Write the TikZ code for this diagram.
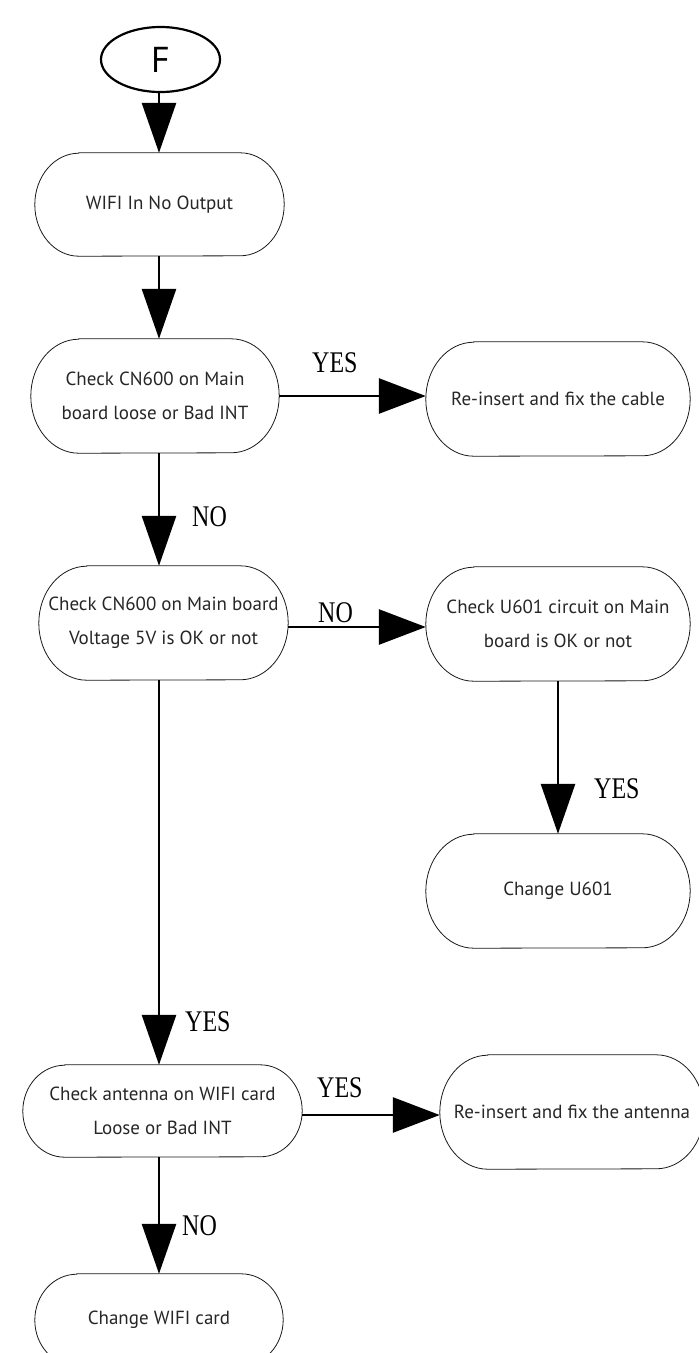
\documentclass[tikz,border=0pt]{standalone}
\usepackage{fontspec}
\setmainfont{PT Sans}
\newfontfamily\boxfont{PT Sans}
\newfontfamily\lblfont[FakeStretch=0.8]{Liberation Serif}
\usetikzlibrary{arrows.meta,shapes.geometric}
\begin{document}
\begin{tikzpicture}[x=1pt,y=1pt,
  box/.style n args={2}{align=center, font=\boxfont\fontsize{19}{34}\selectfont, text=black!85,
     inner sep=0pt, minimum width=#1pt, minimum height=#2pt},
  outline/.style={line width=0.8pt, draw=black!90},
  varr/.style={line width=2.8pt, -{Triangle[length=50pt, width=34pt]}},
  harr/.style={line width=2.8pt, -{Triangle[length=47pt, width=35pt]}},
  lbl/.style={font=\lblfont\fontsize{30}{30}\selectfont, inner sep=0pt, anchor=west}]
\path[use as bounding box, clip] (0,0) rectangle (699,-1353);

% start ellipse
\node[ellipse, draw, line width=2.2pt, minimum width=119pt, minimum height=65pt, inner sep=0pt,
      font=\boxfont\fontsize{36}{36}\selectfont] (F) at (160.5,-59.5) {\raisebox{-5pt}{F}};

% boxes
\node[box={249}{103}] (b1) at (159.5,-204.5) {WIFI In No Output};
\node[box={248}{114}] (b2) at (155,-396) {Check CN600 on Main\\board loose or Bad INT};
\node[box={264}{114}] (r1) at (558,-399) {Re-insert and fix the cable};
\node[box={249}{114}] (b3) at (163.5,-623) {Check CN600 on Main board\\Voltage 5V is OK or not};
\node[box={264}{114}] (r2) at (558,-624) {Check U601 circuit on Main\\board is OK or not};
\node[box={264}{114}] (r3) at (558,-891) {Change U601};
\node[box={279}{92}] (b4) at (162.5,-1111) {Check antenna on WIFI card\\Loose or Bad INT};
\node[box={264}{114}] (r4) at (572,-1112) {Re-insert and fix the antenna};
\node[box={248}{92}] (b5) at (159,-1320) {Change WIFI card};

\foreach \n/\r/\h in {b1/44/51.5, b2/48/57, r1/48/57, b3/48/57, r2/48/57, r3/48/57, b4/42/46, r4/48/57, b5/42/46}
  \draw[outline] ([xshift=\r pt]\n.north west) -- ([xshift=-\r pt]\n.north east)
     arc[start angle=90, end angle=-90, x radius=\r pt, y radius=\h pt]
     -- ([xshift=\r pt]\n.south west)
     arc[start angle=270, end angle=90, x radius=\r pt, y radius=\h pt] -- cycle;

% connectors
\coordinate (colL) at (159,0);
\draw[varr] (F.south -| colL) -- (b1.north -| colL);
\draw[varr] (b1.south -| colL) -- (b2.north -| colL);
\draw[varr] (b2.south -| colL) -- (b3.north -| colL);
\draw[varr] (b3.south -| colL) -- (b4.north -| colL);
\draw[varr] (b4.south -| colL) -- (b5.north -| colL);
\draw[harr] (b2.east) -- (b2.east -| r1.west);
\draw[harr] ([yshift=-4pt]b3.east) -- ([yshift=-4pt]b3.east -| r2.west);
\draw[harr] ([yshift=-4pt]b4.east) -- ([yshift=-4pt]b4.east -| r4.west);
\draw[varr] (r2.south) -- (r3.north);

% labels
\node[lbl] (yes1) at (312,-363) {YES};
\node[lbl] (no1) at (192,-516.5) {NO};
\node[lbl] (no2) at (318,-612.5) {NO};
\node[lbl] (yes2) at (594,-788.5) {YES};
\node[lbl] (yes3) at (185,-1022) {YES};
\node[lbl] (yes4) at (317,-1088) {YES};
\node[lbl] (no3) at (182,-1226) {NO};
\end{tikzpicture}
\end{document}
